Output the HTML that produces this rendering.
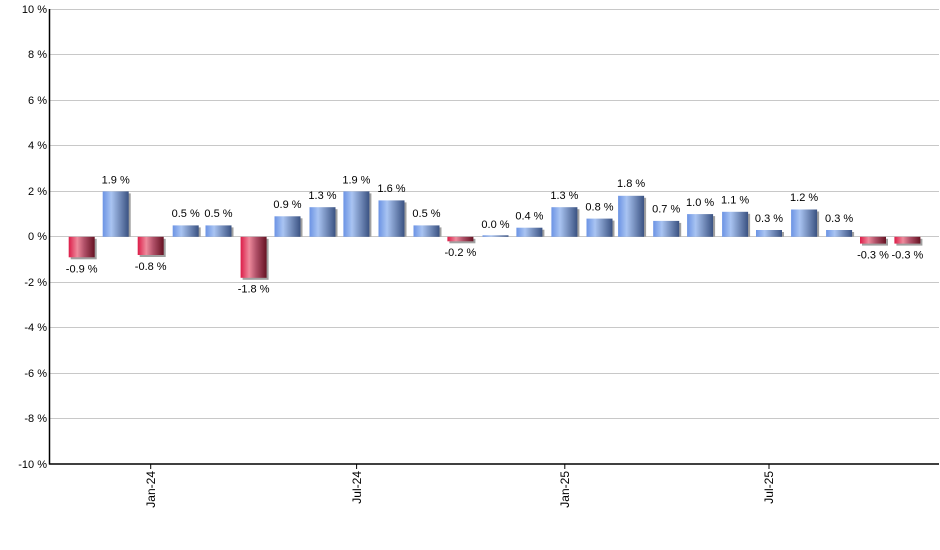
<!DOCTYPE html>
<html>
<head>
<meta charset="utf-8">
<style>
html,body{margin:0;padding:0;background:#fff;}
svg{display:block;}
text{font-family:"Liberation Sans",Arial,sans-serif;fill:#000;}
</style>
</head>
<body>
<svg width="940" height="550" viewBox="0 0 940 550" xmlns="http://www.w3.org/2000/svg">
<defs>
<linearGradient id="gb" x1="0" y1="0" x2="1" y2="0">
<stop offset="0" stop-color="#6b93e4"/>
<stop offset="0.33" stop-color="#a9c4f2"/>
<stop offset="0.6" stop-color="#7d96c4"/>
<stop offset="1" stop-color="#3a5282"/>
</linearGradient>
<linearGradient id="gr" x1="0" y1="0" x2="1" y2="0">
<stop offset="0" stop-color="#dc1c48"/>
<stop offset="0.33" stop-color="#ee8a9c"/>
<stop offset="0.6" stop-color="#b05068"/>
<stop offset="1" stop-color="#661222"/>
</linearGradient>
</defs>

<!-- gridlines -->
<g stroke="#c8c8c8" stroke-width="1">
<line x1="50" y1="9.5" x2="939" y2="9.5"/>
<line x1="50" y1="54.5" x2="939" y2="54.5"/>
<line x1="50" y1="100.5" x2="939" y2="100.5"/>
<line x1="50" y1="145.5" x2="939" y2="145.5"/>
<line x1="50" y1="191.5" x2="939" y2="191.5"/>
<line x1="50" y1="236.5" x2="939" y2="236.5"/>
<line x1="50" y1="282.5" x2="939" y2="282.5"/>
<line x1="50" y1="327.5" x2="939" y2="327.5"/>
<line x1="50" y1="373.5" x2="939" y2="373.5"/>
<line x1="50" y1="418.5" x2="939" y2="418.5"/>
</g>

<!-- y labels -->
<g font-size="11" text-anchor="end">
<text x="47" y="13">10 %</text>
<text x="47" y="58">8 %</text>
<text x="47" y="104">6 %</text>
<text x="47" y="149">4 %</text>
<text x="47" y="195">2 %</text>
<text x="47" y="240">0 %</text>
<text x="47" y="286">-2 %</text>
<text x="47" y="331">-4 %</text>
<text x="47" y="377">-6 %</text>
<text x="47" y="422">-8 %</text>
<text x="47" y="468">-10 %</text>
</g>

<!-- bars: shadows -->
<g fill="#a0a0a0">
<rect x="70.7" y="238.8" width="26" height="20.5"/>
<rect x="104.7" y="193.4" width="26" height="43.4"/>
<rect x="139.7" y="238.8" width="26" height="18.2"/>
<rect x="174.7" y="227.4" width="26" height="9.4"/>
<rect x="207.5" y="227.4" width="26" height="9.4"/>
<rect x="242.6" y="238.8" width="26" height="41"/>
<rect x="276.5" y="218.3" width="26" height="18.5"/>
<rect x="311.5" y="209.2" width="26" height="27.6"/>
<rect x="345.4" y="193.4" width="26" height="43.4"/>
<rect x="380.5" y="202.4" width="26" height="34.4"/>
<rect x="415.5" y="227.4" width="26" height="9.4"/>
<rect x="449.4" y="238.8" width="26" height="4.5"/>
<rect x="518.4" y="229.7" width="26" height="7.1"/>
<rect x="553.4" y="209.2" width="26" height="27.6"/>
<rect x="588.5" y="220.6" width="26" height="16.2"/>
<rect x="620.1" y="197.8" width="26" height="39"/>
<rect x="655.2" y="222.9" width="26" height="13.9"/>
<rect x="689.1" y="216.1" width="26" height="20.7"/>
<rect x="724.1" y="213.8" width="26" height="23"/>
<rect x="758" y="232" width="26" height="4.8"/>
<rect x="793.1" y="211.5" width="26" height="25.3"/>
<rect x="828.1" y="232" width="26" height="4.8"/>
<rect x="862" y="238.8" width="26" height="6.8"/>
<rect x="896.4" y="238.8" width="26" height="6.8"/>
</g>

<!-- bars -->
<g>
<rect x="68.7" y="236.8" width="26" height="20.5" fill="url(#gr)"/>
<rect x="102.7" y="191.4" width="26" height="45.4" fill="url(#gb)"/>
<rect x="137.7" y="236.8" width="26" height="18.2" fill="url(#gr)"/>
<rect x="172.7" y="225.4" width="26" height="11.4" fill="url(#gb)"/>
<rect x="205.5" y="225.4" width="26" height="11.4" fill="url(#gb)"/>
<rect x="240.6" y="236.8" width="26" height="41" fill="url(#gr)"/>
<rect x="274.5" y="216.3" width="26" height="20.5" fill="url(#gb)"/>
<rect x="309.5" y="207.2" width="26" height="29.6" fill="url(#gb)"/>
<rect x="343.4" y="191.4" width="26" height="45.4" fill="url(#gb)"/>
<rect x="378.5" y="200.4" width="26" height="36.4" fill="url(#gb)"/>
<rect x="413.5" y="225.4" width="26" height="11.4" fill="url(#gb)"/>
<rect x="447.4" y="236.8" width="26" height="4.5" fill="url(#gr)"/>
<rect x="482.5" y="235.3" width="26" height="1.5" fill="url(#gb)"/>
<rect x="516.4" y="227.7" width="26" height="9.1" fill="url(#gb)"/>
<rect x="551.4" y="207.2" width="26" height="29.6" fill="url(#gb)"/>
<rect x="586.5" y="218.6" width="26" height="18.2" fill="url(#gb)"/>
<rect x="618.1" y="195.8" width="26" height="41" fill="url(#gb)"/>
<rect x="653.2" y="220.9" width="26" height="15.9" fill="url(#gb)"/>
<rect x="687.1" y="214.1" width="26" height="22.7" fill="url(#gb)"/>
<rect x="722.1" y="211.8" width="26" height="25" fill="url(#gb)"/>
<rect x="756" y="230" width="26" height="6.8" fill="url(#gb)"/>
<rect x="791.1" y="209.5" width="26" height="27.3" fill="url(#gb)"/>
<rect x="826.1" y="230" width="26" height="6.8" fill="url(#gb)"/>
<rect x="860" y="236.8" width="26" height="6.8" fill="url(#gr)"/>
<rect x="894.4" y="236.8" width="26" height="6.8" fill="url(#gr)"/>
</g>

<!-- value labels -->
<g font-size="11" text-anchor="middle">
<text x="81.7" y="272.5">-0.9 %</text>
<text x="115.7" y="183.5">1.9 %</text>
<text x="150.7" y="270">-0.8 %</text>
<text x="185.7" y="217">0.5 %</text>
<text x="218.5" y="217">0.5 %</text>
<text x="253.6" y="292.5">-1.8 %</text>
<text x="287.5" y="208">0.9 %</text>
<text x="322.5" y="199">1.3 %</text>
<text x="356.4" y="183.5">1.9 %</text>
<text x="391.5" y="192">1.6 %</text>
<text x="426.5" y="217">0.5 %</text>
<text x="460.4" y="256">-0.2 %</text>
<text x="495.5" y="228">0.0 %</text>
<text x="529.4" y="219.5">0.4 %</text>
<text x="564.4" y="199">1.3 %</text>
<text x="599.5" y="210.5">0.8 %</text>
<text x="631.1" y="187">1.8 %</text>
<text x="666.2" y="212.5">0.7 %</text>
<text x="700.1" y="206">1.0 %</text>
<text x="735.1" y="203.5">1.1 %</text>
<text x="769" y="222">0.3 %</text>
<text x="804.1" y="201">1.2 %</text>
<text x="839.1" y="222">0.3 %</text>
<text x="873" y="258.5">-0.3 %</text>
<text x="907.4" y="258.5">-0.3 %</text>
</g>

<!-- axes -->
<g stroke="#000" stroke-width="1.5">
<line x1="49.5" y1="9" x2="49.5" y2="464.5"/>
<line x1="49" y1="464" x2="939" y2="464"/>
</g>
<g stroke="#000" stroke-width="1">
<line x1="150.7" y1="464" x2="150.7" y2="469"/>
<line x1="356.6" y1="464" x2="356.6" y2="469"/>
<line x1="564.8" y1="464" x2="564.8" y2="469"/>
<line x1="769" y1="464" x2="769" y2="469"/>
</g>

<!-- x labels -->
<g font-size="12" text-anchor="end">
<text transform="translate(155,471) rotate(-90)">Jan-24</text>
<text transform="translate(360.8,471) rotate(-90)">Jul-24</text>
<text transform="translate(569,471) rotate(-90)">Jan-25</text>
<text transform="translate(773.2,471) rotate(-90)">Jul-25</text>
</g>
</svg>
</body>
</html>
